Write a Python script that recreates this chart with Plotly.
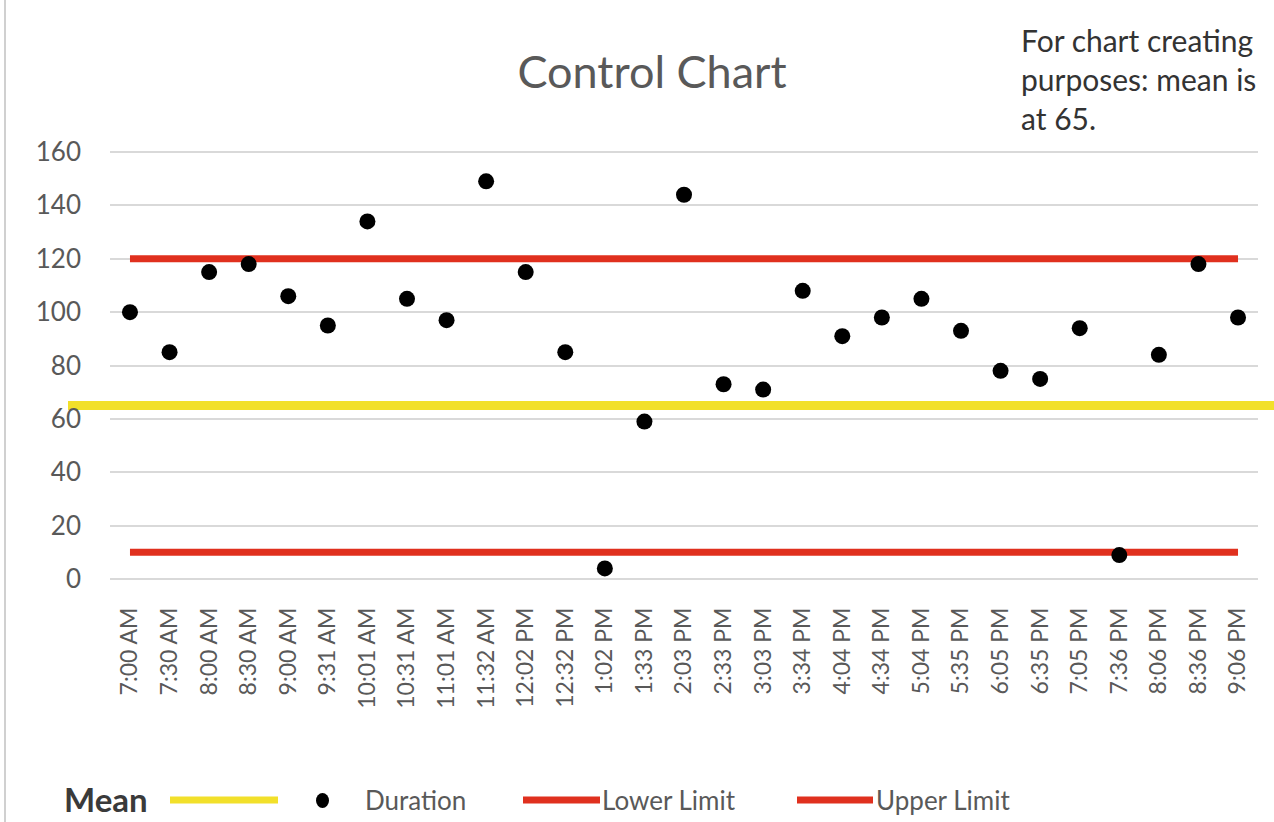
import plotly.graph_objects as go

# ---------------- data ----------------
times = ["7:00 AM", "7:30 AM", "8:00 AM", "8:30 AM", "9:00 AM", "9:31 AM", "10:01 AM",
         "10:31 AM", "11:01 AM", "11:32 AM", "12:02 PM", "12:32 PM", "1:02 PM", "1:33 PM",
         "2:03 PM", "2:33 PM", "3:03 PM", "3:34 PM", "4:04 PM", "4:34 PM", "5:04 PM",
         "5:35 PM", "6:05 PM", "6:35 PM", "7:05 PM", "7:36 PM", "8:06 PM", "8:36 PM",
         "9:06 PM"]
duration = [100, 85, 115, 118, 106, 95, 134, 105, 97, 149, 115, 85, 4, 59,
            144, 73, 71, 108, 91, 98, 105, 93, 78, 75, 94, 9, 84, 118, 98]
mean_value = 65
lower_limit = 10
upper_limit = 120
y_ticks = [0, 20, 40, 60, 80, 100, 120, 140, 160]

# ---------------- layout geometry ----------------
W, H = 1274, 822
L, R, T, B = 110, 16, 140, 232
PW, PH = W - L - R, H - T - B
Y_RANGE = [-4.1, 164.5]
X_RANGE = [-0.505, len(times) - 1 + 0.505]


def px(xp):
    return (xp - L) / PW


def py(yp):
    return (H - B - yp) / PH


def yval_to_paper(v):
    return (v - Y_RANGE[0]) / (Y_RANGE[1] - Y_RANGE[0])


RED = "#E0301E"
YELLOW = "#F2E02A"
GRAY = "#595959"
FONT = "Lato"

fig = go.Figure()

fig.add_trace(go.Scatter(
    x=times, y=[lower_limit] * len(times), mode="lines", name="Lower Limit",
    line=dict(color=RED, width=7), showlegend=False))
fig.add_trace(go.Scatter(
    x=times, y=[upper_limit] * len(times), mode="lines", name="Upper Limit",
    line=dict(color=RED, width=7), showlegend=False))
fig.add_trace(go.Scatter(
    x=times, y=duration, mode="markers", name="Duration",
    marker=dict(color="black", size=16), showlegend=False, cliponaxis=False))

shapes = []
# Mean line (extends past the plot area like the reference)
ym = yval_to_paper(mean_value)
shapes.append(dict(type="line", xref="paper", yref="paper", x0=px(68), x1=px(1274),
                   y0=ym, y1=ym, line=dict(color=YELLOW, width=9), layer="below"))
# left frame border
shapes.append(dict(type="line", xref="paper", yref="paper", x0=px(5), x1=px(5),
                   y0=py(0), y1=py(822), line=dict(color="#d0d0d0", width=2)))

# ---- manual legend ----
ly = 800
shapes.append(dict(type="line", xref="paper", yref="paper", x0=px(170), x1=px(278),
                   y0=py(ly), y1=py(ly), line=dict(color=YELLOW, width=7)))
shapes.append(dict(type="circle", xref="paper", yref="paper", x0=px(316), x1=px(329),
                   y0=py(ly + 8), y1=py(ly - 7), fillcolor="black", line=dict(width=0)))
shapes.append(dict(type="line", xref="paper", yref="paper", x0=px(523), x1=px(600),
                   y0=py(ly), y1=py(ly), line=dict(color=RED, width=7)))
shapes.append(dict(type="line", xref="paper", yref="paper", x0=px(797), x1=px(873),
                   y0=py(ly), y1=py(ly), line=dict(color=RED, width=7)))

annotations = [
    dict(text="<b>Mean</b>", xref="paper", yref="paper", x=px(62), y=py(ly - 1),
         xanchor="left", yanchor="middle", showarrow=False,
         font=dict(family=FONT, size=33, color="#3a3a3a")),
    dict(text="Duration", xref="paper", yref="paper", x=px(363), y=py(ly),
         xanchor="left", yanchor="middle", showarrow=False,
         font=dict(family=FONT, size=26, color=GRAY)),
    dict(text="Lower Limit", xref="paper", yref="paper", x=px(600), y=py(ly),
         xanchor="left", yanchor="middle", showarrow=False,
         font=dict(family=FONT, size=26, color=GRAY)),
    dict(text="Upper Limit", xref="paper", yref="paper", x=px(874), y=py(ly),
         xanchor="left", yanchor="middle", showarrow=False,
         font=dict(family=FONT, size=26, color=GRAY)),
    dict(text="For chart creating<br>purposes: mean is<br>at 65.", xref="paper", yref="paper",
         x=px(1019), y=py(20), xanchor="left", yanchor="top", align="left", showarrow=False,
         font=dict(family=FONT, size=30, color="#333333")),
]

fig.update_layout(
    width=W, height=H,
    margin=dict(l=L, r=R, t=T, b=B),
    paper_bgcolor="white", plot_bgcolor="white",
    title=dict(text="Control Chart", xref="container", x=652 / W, xanchor="center",
               yref="container", y=1 - 72 / H, yanchor="middle",
               font=dict(family=FONT, size=45, color=GRAY)),
    showlegend=False,
    shapes=shapes,
    annotations=annotations,
    xaxis=dict(type="category", range=X_RANGE, showgrid=False, zeroline=False,
               showline=False, ticks="", tickangle=-90, ticklabelstandoff=12,
               tickfont=dict(family=FONT, size=23, color=GRAY)),
    yaxis=dict(range=Y_RANGE, tickvals=y_ticks, showgrid=True, gridcolor="#d9d9d9",
               gridwidth=2, zeroline=False, showline=False, ticks="",
               ticklabelstandoff=28,
               tickfont=dict(family=FONT, size=26, color=GRAY)),
)

fig.write_html("out.html", config={"displayModeBar": False},
               post_script="document.body.style.margin='0px';")
